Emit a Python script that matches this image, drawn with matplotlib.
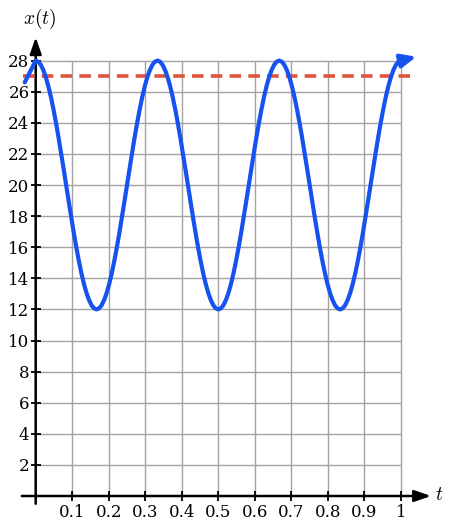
import numpy as np
import matplotlib
matplotlib.use("Agg")
import matplotlib.pyplot as plt

plt.rcParams["mathtext.fontset"] = "cm"

# ---- data ----
t_ticks = [0.1, 0.2, 0.3, 0.4, 0.5, 0.6, 0.7, 0.8, 0.9, 1.0]
t_tick_labels = ["0.1", "0.2", "0.3", "0.4", "0.5", "0.6", "0.7", "0.8", "0.9", "1"]
x_ticks = [2, 4, 6, 8, 10, 12, 14, 16, 18, 20, 22, 24, 26, 28]
x_tick_labels = [str(v) for v in x_ticks]

# curve samples x(t) (start slightly left of t=0, then every 1/144)
t_start = [-0.03]
x_start = [26.6]
x_curve = [
    28, 27.93, 27.73, 27.39, 26.93, 26.35, 25.66, 24.87, 24.0, 23.06, 22.07, 21.04,
    20.0, 18.96, 17.93, 16.94, 16.0, 15.13, 14.34, 13.65, 13.07, 12.61, 12.27, 12.07,
    12.0, 12.07, 12.27, 12.61, 13.07, 13.65, 14.34, 15.13, 16.0, 16.94, 17.93, 18.96,
    20.0, 21.04, 22.07, 23.06, 24.0, 24.87, 25.66, 26.35, 26.93, 27.39, 27.73, 27.93,
    28, 27.93, 27.73, 27.39, 26.93, 26.35, 25.66, 24.87, 24.0, 23.06, 22.07, 21.04,
    20.0, 18.96, 17.93, 16.94, 16.0, 15.13, 14.34, 13.65, 13.07, 12.61, 12.27, 12.07,
    12.0, 12.07, 12.27, 12.61, 13.07, 13.65, 14.34, 15.13, 16.0, 16.94, 17.93, 18.96,
    20.0, 21.04, 22.07, 23.06, 24.0, 24.87, 25.66, 26.35, 26.93, 27.39, 27.73, 27.93,
    28, 27.93, 27.73, 27.39, 26.93, 26.35, 25.66, 24.87, 24.0, 23.06, 22.07, 21.04,
    20.0, 18.96, 17.93, 16.94, 16.0, 15.13, 14.34, 13.65, 13.07, 12.61, 12.27, 12.07,
    12.0, 12.07, 12.27, 12.61, 13.07, 13.65, 14.34, 15.13, 16.0, 16.94, 17.93, 18.96,
    20.0, 21.04, 22.07, 23.06, 24.0, 24.87, 25.66, 26.35, 26.93, 27.39, 27.73, 27.93,
    28]
t_curve = list(np.linspace(0, 1, len(x_curve)))
threshold = 27
threshold_span = [-0.035, 1.025]

# ---- figure ----
W, H, DPI = 456, 530, 100
fig = plt.figure(figsize=(W / DPI, H / DPI), dpi=DPI)
ax = fig.add_axes([0, 0, 1, 1])

px_t = 365.3   # pixels per unit t
px_x = 15.55   # pixels per unit x
x0_px, y0_px = 35.7, 496.0
ax.set_xlim(-x0_px / px_t, (W - x0_px) / px_t)
ax.set_ylim(-(H - y0_px) / px_x, y0_px / px_x)

grid_c = "#a3a3a3"
ax.vlines(t_ticks, 0, max(x_ticks), color=grid_c, lw=1.0, zorder=1)
ax.hlines(x_ticks, 0, max(t_ticks), color=grid_c, lw=1.0, zorder=1)

for s in ["top", "right"]:
    ax.spines[s].set_visible(False)
ax.spines["left"].set_position(("data", 0))
ax.spines["bottom"].set_position(("data", 0))
ax.spines["left"].set_visible(False)
ax.spines["bottom"].set_visible(False)

# axes with arrows
ax.annotate("", xy=(1.082, 0), xytext=(-0.038, 0),
            arrowprops=dict(arrowstyle="-|>,head_length=1.0,head_width=0.35",
                            lw=1.8, color="black", shrinkA=0, shrinkB=0), zorder=3)
ax.annotate("", xy=(0, 29.5), xytext=(0, -0.5),
            arrowprops=dict(arrowstyle="-|>,head_length=1.0,head_width=0.35",
                            lw=1.8, color="black", shrinkA=0, shrinkB=0), zorder=3)

lab_font = dict(family="DejaVu Serif", size=12)
ax.set_xticks(t_ticks)
ax.set_xticklabels(t_tick_labels, fontdict=lab_font)
ax.set_yticks(x_ticks)
ax.set_yticklabels(x_tick_labels, fontdict=lab_font)
ax.tick_params(axis="both", direction="inout", length=7, width=1.3, color="black")
ax.tick_params(axis="x", pad=2)
ax.tick_params(axis="y", pad=1)

# curve
ax.plot(t_start + t_curve, x_start + x_curve, color="#1652f0", lw=3.0,
        solid_capstyle="round", zorder=5)
ax.annotate("", xy=(1.042, 28.25), xytext=(t_curve[-1], x_curve[-1]),
            arrowprops=dict(arrowstyle="-|>,head_length=0.9,head_width=0.4",
                            lw=3.0, color="#1652f0", shrinkA=0, shrinkB=0), zorder=5)

# threshold dashed line
ax.plot(threshold_span, [threshold, threshold], color="#e0533c", lw=2.6,
        dashes=(3.2, 2.0), zorder=4)

ax.text(0.01, 30.7, "$x(t)$", fontsize=14, ha="center", va="center")
ax.text(1.105, 0.1, "$t$", fontsize=14, ha="center", va="center")

fig.savefig("out.png", dpi=DPI)
